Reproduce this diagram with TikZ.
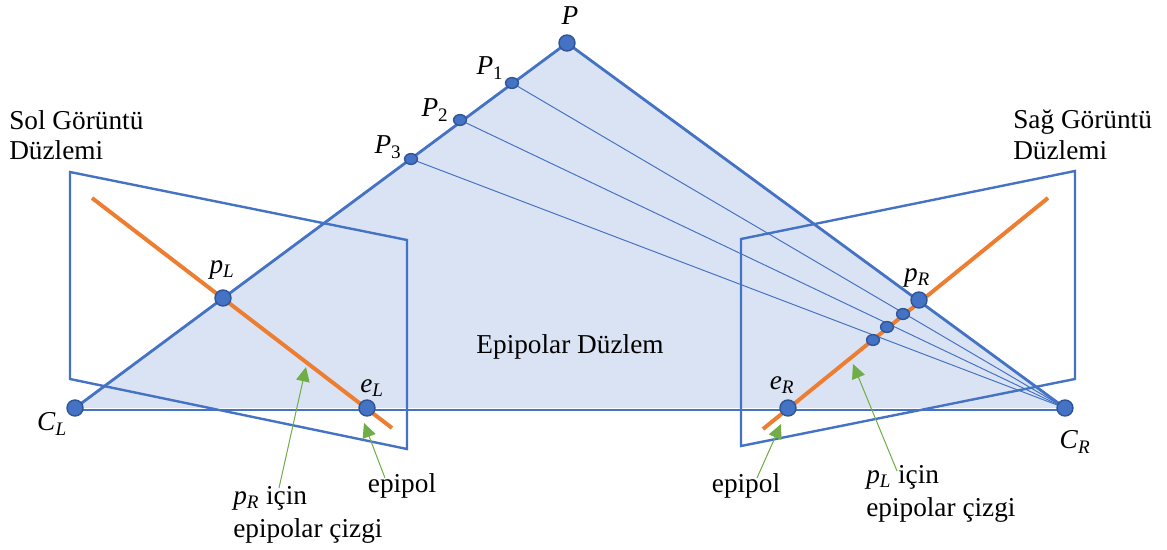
\documentclass[tikz,border=0pt]{standalone}
\usepackage{fontspec}
\setmainfont{Liberation Serif}
\usetikzlibrary{arrows.meta,shapes.geometric,backgrounds}
\definecolor{planeblue}{HTML}{4472C4}
\definecolor{darkblue}{HTML}{2F5597}
\definecolor{triblue}{HTML}{DAE3F3}
\definecolor{lineorange}{HTML}{ED7D31}
\definecolor{notegreen}{HTML}{70AD47}
\newcommand{\itsub}[2]{\textit{#1}\textsubscript{\textit{#2}}}
\newcommand{\numsub}[2]{\textit{#1}\textsubscript{#2}}
\begin{document}
\begin{tikzpicture}[
  x=0.025cm, y=-0.025cm,
  bigdot/.style={circle, draw=darkblue, fill=planeblue, line width=1pt, minimum size=0.40cm, inner sep=0pt},
  smalldot/.style={ellipse, draw=darkblue, fill=planeblue, line width=1pt, minimum width=0.32cm, minimum height=0.27cm, inner sep=0pt},
  lbl/.style={font=\fontsize{19.4}{21.5}\selectfont, inner sep=0pt, align=left},
  notelbl/.style={font=\fontsize{19.4}{23.5}\selectfont, inner sep=0pt, align=left},
  edge/.style={draw=planeblue, line width=2pt},
  plane/.style={draw=planeblue, line width=1.7pt},
  ray/.style={draw=planeblue, line width=0.7pt},
  epiline/.style={draw=lineorange, line width=2.8pt},
  notearr/.style={-{Triangle[length=0.36cm, width=0.34cm]}, draw=notegreen, fill=notegreen, line width=0.7pt},
]
\useasboundingbox (0,0) rectangle (1167,550);

% Dots
\node[bigdot] (P) at (567,43) {};
\node[bigdot] (CL) at (75,408) {};
\node[bigdot] (CR) at (1065,408) {};
\node[bigdot] (pL) at (223,298) {};
\node[bigdot] (pR) at (919,300) {};
\node[bigdot] (eL) at (367,408) {};
\node[bigdot] (eR) at (788,408) {};
\node[smalldot] (P1) at (512,83) {};
\node[smalldot] (P2) at (460,120) {};
\node[smalldot] (P3) at (411,159) {};
\node[smalldot] (q1) at (903,314) {};
\node[smalldot] (q2) at (887,327) {};
\node[smalldot] (q3) at (873,340) {};

% Labels
\node[lbl, anchor=north west] (soltxt) at (9,110) {Sol Görüntü\\Düzlemi};
\node[lbl, anchor=north west] (sagtxt) at (1013,110) {Sağ Görüntü\\Düzlemi};
\node[lbl] (eptxt) at (570,347) {Epipolar Düzlem};
\node[lbl] (Ptxt) at (570,16) {\textit{P}};
\node[lbl] (P1txt) at (490,68) {\numsub{P}{1}};
\node[lbl] (P2txt) at (435,110) {\numsub{P}{2}};
\node[lbl] (P3txt) at (388,147) {\numsub{P}{3}};
\node[lbl] (pLtxt) at (222,270) {\itsub{p}{L}};
\node[lbl] (pRtxt) at (917,278) {\itsub{p}{R}};
\node[lbl] (eLtxt) at (372,388) {\itsub{e}{L}};
\node[lbl] (eRtxt) at (782,385) {\itsub{e}{R}};
\node[lbl] (CLtxt) at (52,424) {\itsub{C}{L}};
\node[lbl] (CRtxt) at (1075,442) {\itsub{C}{R}};
\node[lbl] (epil) at (402,486) {epipol};
\node[lbl] (epir) at (746,486) {epipol};
\node[notelbl, anchor=north west] (ncl) at (233,486) {\itsub{p}{R} için\\epipolar çizgi};
\node[notelbl, anchor=north west] (ncr) at (866,465) {\itsub{p}{L} için\\epipolar çizgi};

% Free ends
\coordinate (l1) at (70,172);
\coordinate (l2) at (407,240);
\coordinate (l3) at (407,449);
\coordinate (l4) at (70,379);
\coordinate (r1) at (1075,171);
\coordinate (r2) at (741,239);
\coordinate (r3) at (741,446);
\coordinate (r4) at (1075,379);
\coordinate (oll) at (92,198);
\coordinate (olr) at (392,428);
\coordinate (orl) at (1048,198);
\coordinate (orr) at (763,429);
\coordinate (tip1) at (306,367);
\coordinate (tip2) at (364,423);
\coordinate (tip3) at (781,424);
\coordinate (tip4) at (853,364);
\coordinate (st1) at (279,488);
\coordinate (st2) at (385,478);
\coordinate (st3) at (757,478);
\coordinate (st4) at (897,471);

\begin{pgfonlayer}{background}
\fill[triblue] (CL.center) -- (P.center) -- (CR.center) -- cycle;

\draw[ray] (P1.center) -- (CR.center);
\draw[ray] (P2.center) -- (CR.center);
\draw[ray] (P3.center) -- (CR.center);

\draw[plane] (l1) -- (l2) -- (l3) -- (l4) -- cycle;
\draw[plane] (r1) -- (r2) -- (r3) -- (r4) -- cycle;

\draw[edge] (CL.center) -- (P.center);
\draw[edge] (P.center) -- (CR.center);
\draw[edge] ([yshift=-0.05cm]CL.center) -- ([yshift=-0.05cm]CR.center);

\draw[epiline] (oll) -- (olr);
\draw[epiline] (orl) -- (orr);
\end{pgfonlayer}

\draw[notearr] (st1) -- (tip1);
\draw[notearr] (st2) -- (tip2);
\draw[notearr] (st3) -- (tip3);
\draw[notearr] (st4) -- (tip4);
\end{tikzpicture}
\end{document}
